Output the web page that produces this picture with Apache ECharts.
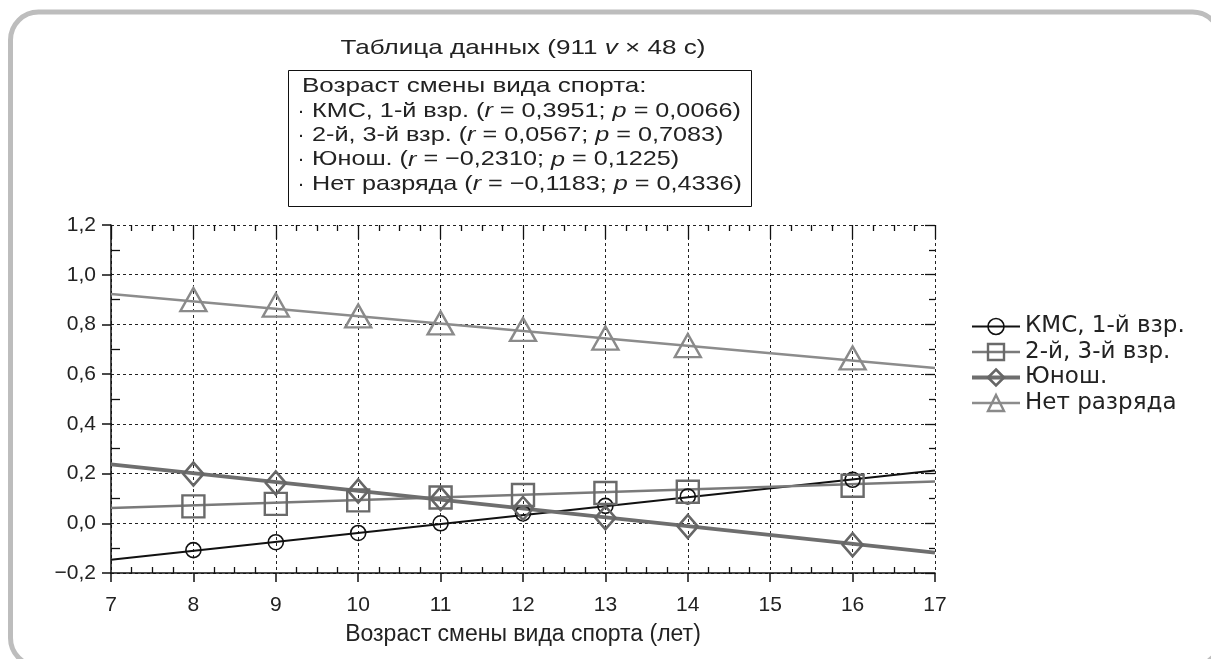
<!DOCTYPE html>
<html>
<head>
<meta charset="utf-8">
<script src="https://cdn.jsdelivr.net/npm/echarts@6/dist/echarts.min.js"></script>
<style>html,body{margin:0;padding:0;background:#fff}#c{width:1211px;height:659px}</style>
</head>
<body>
<div id="c"></div>
<script>
// ---- data ----
var ages = [8, 9, 10, 11, 12, 13, 14, 16];
var fitX = [7, 17];
var kms = [-0.108, -0.076, -0.039, 0.0, 0.04, 0.07, 0.108, 0.175];
var kmsFit = [-0.147, 0.212];
var sq = [0.068, 0.078, 0.092, 0.104, 0.114, 0.122, 0.127, 0.151];
var sqFit = [0.061, 0.168];
var juv = [0.198, 0.162, 0.13, 0.10, 0.06, 0.022, -0.013, -0.086];
var juvFit = [0.237, -0.118];
var none = [0.90, 0.878, 0.834, 0.806, 0.78, 0.745, 0.715, 0.665];
var noneFit = [0.922, 0.625];
var names = ['КМС, 1-й взр.', '2-й, 3-й взр.', 'Юнош.', 'Нет разряда'];
var xTicks = [7, 17, 1];
var yTicks = [-0.2, 1.2, 0.2];

var FONT = '"Liberation Sans", Arial, Helvetica, sans-serif';
var WFONT = '"DejaVu Sans", "Liberation Sans", sans-serif';
var TXT = '#222';

function pairs(xs, ys) { return xs.map(function (x, i) { return [x, ys[i]]; }); }
function fmtY(v) { return v.toFixed(1).replace('.', ',').replace('-', '\u2212'); }

var styles = [
  { color: '#111', lw: 2, sym: 'circle', size: 15, bw: 1.6 },
  { color: '#6a6a6a', lw: 2.5, sym: 'rect', size: 22, bw: 2.4, lc: '#7a7a7a' },
  { color: '#666', lw: 4, sym: 'diamond', size: [20, 23], bw: 2.6, lc: '#6e6e6e' },
  { color: '#8a8a8a', lw: 2.5, sym: 'triangle', size: [26, 23], bw: 2.4, lc: '#8c8c8c' }
];
var pts = [kms, sq, juv, none];
var fits = [kmsFit, sqFit, juvFit, noneFit];

var series = [];
styles.forEach(function (s, i) {
  series.push({
    name: names[i], type: 'line', xAxisIndex: 0, yAxisIndex: 0,
    data: pairs(fitX, fits[i]), symbol: s.sym, showSymbol: false,
    lineStyle: { color: s.lc || s.color, width: s.lw },
    itemStyle: { color: 'transparent', borderColor: s.color, borderWidth: s.bw },
    silent: true, z: 2, animation: false
  });
  series.push({
    name: names[i] + ' pts', type: 'scatter', xAxisIndex: 0, yAxisIndex: 0,
    data: pairs(ages, pts[i]), symbol: s.sym, symbolSize: s.size,
    itemStyle: { color: 'transparent', borderColor: s.color, borderWidth: s.bw, opacity: 1 },
    silent: true, z: 3, animation: false
  });
});

var boxLines = [
  { b: false, t: 'Возраст смены вида спорта:' },
  { b: true, t: 'КМС, 1-й взр. ({i|r} = 0,3951; {i|p} = 0,0066)' },
  { b: true, t: '2-й, 3-й взр. ({i|r} = 0,0567; {i|p} = 0,7083)' },
  { b: true, t: 'Юнош. ({i|r} = \u22120,2310; {i|p} = 0,1225)' },
  { b: true, t: 'Нет разряда ({i|r} = \u22120,1183; {i|p} = 0,4336)' }
];
var BOXFS = 21, SX = 1.24, SXB = 1.2;
var rich = { i: { fontStyle: 'italic', fontSize: BOXFS, fontFamily: FONT, fill: TXT } };
var graphics = [
  { type: 'rect', shape: { x: 10.5, y: 12, width: 1210, height: 654, r: 28 },
    style: { fill: 'none', stroke: '#bdbdbd', lineWidth: 5 }, z: 0, silent: true },
  { type: 'text', x: 523, y: 48, scaleX: SX, style: {
      text: 'Таблица данных (911 {i|v} × 48 c)', font: BOXFS + 'px ' + FONT, fill: TXT,
      align: 'center', verticalAlign: 'middle', rich: rich }, z: 10 },
  { type: 'rect', shape: { x: 288.5, y: 70.5, width: 463, height: 136 },
    style: { fill: '#fff', stroke: '#111', lineWidth: 1 }, z: 9 }
];
boxLines.forEach(function (l, i) {
  var y = 86.5 + i * 24.4;
  if (l.b) {
    graphics.push({ type: 'text', x: 301, y: y, style: { text: '·', font: BOXFS + 'px ' + FONT, fill: TXT, align: 'center', verticalAlign: 'middle' }, z: 10 });
  }
  graphics.push({ type: 'text', x: l.b ? 312 : 302, y: y, scaleX: l.b ? SXB : SX, style: {
      text: l.t, font: BOXFS + 'px ' + FONT, fill: TXT, align: 'left', verticalAlign: 'middle',
      rich: rich }, z: 10 });
});

var grid = { left: 111, right: 276, top: 225, bottom: 86 };
var axBase = function (t) { return { type: 'value', min: t[0], max: t[1], interval: t[2] }; };
var noLine = { show: false, onZero: false };
var hide = { show: false };

var option = {
  animation: false,
  grid: grid,
  graphic: graphics,
  legend: {
    orient: 'vertical', left: 970, top: 315, padding: 0, itemWidth: 48, itemHeight: 20, itemGap: 2.5,
    selectedMode: false,
    textStyle: { fontSize: 23, lineHeight: 20, fontFamily: WFONT, color: TXT, padding: [0, 0, 0, 0] },
    data: names.map(function (n, i) {
      var s = styles[i];
      return { name: n,
        itemStyle: { color: 'transparent', borderColor: s.color, borderWidth: s.bw },
        lineStyle: { color: s.lc || s.color, width: s.lw } };
    })
  },
  xAxis: [
    Object.assign(axBase(xTicks), {
      position: 'bottom',
      axisLine: { show: true, onZero: false, lineStyle: { color: '#111', width: 1.5 } },
      axisTick: { show: true, inside: false, length: 9, lineStyle: { color: '#111', width: 1.5 } },
      axisLabel: { margin: 22, fontSize: 21, fontFamily: FONT, color: TXT },
      splitLine: { show: true, lineStyle: { color: '#222', width: 1, type: [3, 3] } },
      name: 'Возраст смены вида спорта (лет)', nameLocation: 'middle', nameGap: 50,
      nameTextStyle: { fontSize: 23, fontFamily: FONT, color: TXT }
    }),
    Object.assign(axBase(xTicks), {
      position: 'bottom', axisLine: noLine, axisLabel: hide, splitLine: hide,
      axisTick: { show: false, inside: true },
      minorTick: { show: true, splitNumber: 4, length: 6, lineStyle: { color: '#111', width: 1.3 } }
    }),
    Object.assign(axBase(xTicks), {
      position: 'top', axisLine: noLine, axisLabel: hide, splitLine: hide,
      axisTick: { show: true, inside: true, length: 14, lineStyle: { color: '#111', width: 1.3 } },
      minorTick: { show: true, splitNumber: 4, length: 6, lineStyle: { color: '#111', width: 1.3 } }
    })
  ],
  yAxis: [
    Object.assign(axBase(yTicks), {
      position: 'left',
      axisLine: { show: true, onZero: false, lineStyle: { color: '#111', width: 1.5 } },
      axisTick: { show: true, inside: false, length: 9, lineStyle: { color: '#111', width: 1.5 } },
      axisLabel: { margin: 15, fontSize: 21, fontFamily: FONT, color: TXT, formatter: fmtY },
      splitLine: { show: true, lineStyle: { color: '#222', width: 1, type: [3, 3] } }
    }),
    Object.assign(axBase(yTicks), {
      position: 'left', axisLine: noLine, axisLabel: hide, splitLine: hide,
      axisTick: { show: false, inside: true },
      minorTick: { show: true, splitNumber: 2, length: 9, lineStyle: { color: '#111', width: 1.3 } }
    }),
    Object.assign(axBase(yTicks), {
      position: 'right', axisLine: noLine, axisLabel: hide, splitLine: hide,
      axisTick: { show: true, inside: true, length: 10, lineStyle: { color: '#111', width: 1.3 } },
      minorTick: { show: true, splitNumber: 2, length: 6, lineStyle: { color: '#111', width: 1.3 } }
    })
  ],
  series: series
};
var chart = echarts.init(document.getElementById('c'), null, { renderer: 'canvas' });
chart.setOption(option);
</script>
</body>
</html>
